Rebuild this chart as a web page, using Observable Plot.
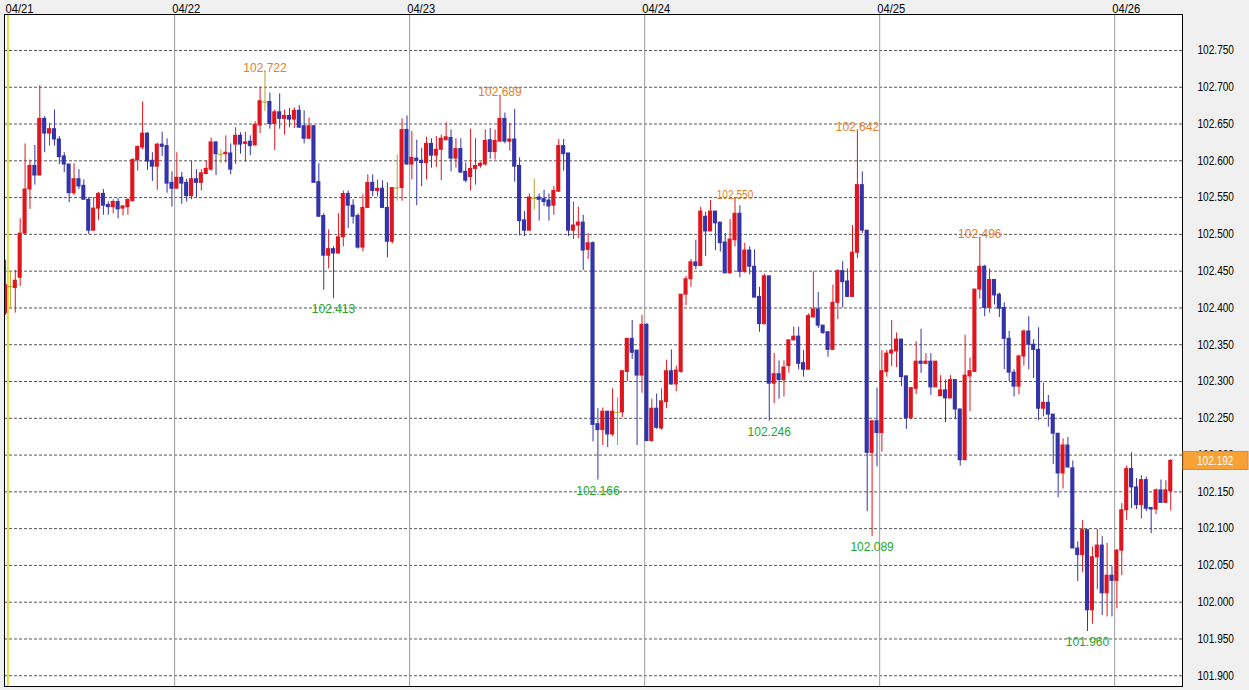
<!DOCTYPE html>
<html>
<head>
<meta charset="utf-8">
<script src="https://cdn.jsdelivr.net/npm/d3@7"></script>
<script src="https://cdn.jsdelivr.net/npm/@observablehq/plot@0.6"></script>
<style>
  html, body { margin: 0; padding: 0; background: #f0f0f0; }
  #chart { width: 1249px; height: 690px; }
</style>
</head>
<body>
<div id="chart"></div>
<script>
// ---- DATA (30-minute candles, 04/21 06:30 .. 04/26 05:30) ----
const opens = [
102.393,102.429,102.427,102.441,102.501,102.561,102.593,102.580,102.657,102.637,
102.643,102.629,102.606,102.595,102.556,102.575,102.566,102.547,102.505,102.535,
102.555,102.540,102.537,102.544,102.535,102.537,102.545,102.601,102.618,102.637,
102.600,102.592,102.622,102.620,102.570,102.562,102.577,102.570,102.552,102.575,
102.570,102.582,102.588,102.625,102.609,102.609,102.610,102.622,102.634,102.623,
102.626,102.621,102.648,102.680,102.680,102.650,102.666,102.657,102.661,102.656,
102.668,102.647,102.630,102.647,102.571,102.525,102.471,102.480,102.474,102.496,
102.555,102.539,102.525,102.482,102.536,102.570,102.559,102.562,102.536,102.490,
102.563,102.563,102.642,102.595,102.603,102.600,102.597,102.623,102.607,102.615,
102.628,102.631,102.603,102.616,102.585,102.578,102.589,102.593,102.595,102.628,
102.612,102.626,102.657,102.626,102.629,102.593,102.519,102.505,102.549,102.550,
102.548,102.546,102.539,102.558,102.620,102.610,102.505,102.512,102.516,102.479,
102.488,102.242,102.234,102.259,102.228,102.258,102.258,102.313,102.358,102.342,
102.308,102.377,102.219,102.263,102.236,102.272,102.314,102.296,102.313,102.418,
102.439,102.462,102.457,102.524,102.504,102.531,102.516,102.489,102.447,102.492,
102.528,102.449,102.478,102.456,102.415,102.378,102.443,102.297,102.310,102.302,
102.321,102.356,102.361,102.325,102.316,102.387,102.398,102.376,102.367,102.343,
102.407,102.450,102.436,102.415,102.475,102.567,102.505,102.203,102.246,102.230,
102.313,102.338,102.341,102.357,102.307,102.250,102.290,102.327,102.324,102.327,
102.292,102.280,102.288,102.277,102.302,102.262,102.193,102.307,102.313,102.425,
102.456,102.400,102.438,102.418,102.400,102.358,102.312,102.293,102.334,102.368,
102.350,102.343,102.263,102.271,102.255,102.229,102.175,102.213,102.182,102.073,
102.064,102.098,101.989,102.061,102.077,102.012,102.036,102.029,102.070,102.125,
102.181,102.156,102.132,102.166,102.128,102.126,102.152,102.135,102.151
];
const highs = [
102.465,102.449,102.451,102.521,102.623,102.601,102.621,102.702,102.660,102.651,
102.669,102.633,102.611,102.595,102.596,102.588,102.574,102.550,102.550,102.557,
102.561,102.544,102.547,102.549,102.539,102.548,102.603,102.620,102.680,102.638,
102.611,102.624,102.639,102.630,102.585,102.611,102.584,102.575,102.600,102.588,
102.588,102.600,102.631,102.626,102.615,102.634,102.623,102.645,102.638,102.639,
102.634,102.653,102.700,102.722,102.692,102.669,102.691,102.669,102.671,102.672,
102.675,102.668,102.658,102.648,102.596,102.528,102.506,102.483,102.528,102.559,
102.559,102.547,102.528,102.554,102.581,102.581,102.574,102.573,102.570,102.563,
102.608,102.657,102.661,102.640,102.628,102.617,102.632,102.630,102.633,102.635,
102.652,102.642,102.630,102.630,102.597,102.643,102.630,102.598,102.642,102.644,
102.642,102.689,102.665,102.651,102.670,102.604,102.531,102.555,102.575,102.555,
102.560,102.555,102.565,102.629,102.629,102.610,102.544,102.537,102.526,102.501,
102.490,102.263,102.264,102.259,102.290,102.278,102.314,102.358,102.383,102.342,
102.390,102.379,102.276,102.283,102.290,102.329,102.343,102.321,102.418,102.443,
102.466,102.492,102.537,102.530,102.546,102.531,102.516,102.501,102.520,102.550,
102.539,102.488,102.483,102.479,102.428,102.446,102.443,102.338,102.328,102.328,
102.356,102.374,102.374,102.342,102.392,102.449,102.421,102.376,102.367,102.431,
102.452,102.463,102.453,102.512,102.642,102.585,102.505,102.246,102.291,102.342,
102.342,102.383,102.366,102.357,102.307,102.291,102.354,102.371,102.338,102.338,
102.327,102.308,102.302,102.308,102.302,102.262,102.363,102.332,102.425,102.496,
102.458,102.453,102.438,102.420,102.407,102.368,102.316,102.336,102.370,102.388,
102.357,102.373,102.298,102.281,102.255,102.229,102.222,102.224,102.192,102.082,
102.111,102.098,102.075,102.099,102.089,102.080,102.049,102.072,102.134,102.185,
102.203,102.168,102.172,102.170,102.128,102.154,102.166,102.165,102.194
];
const lows = [
102.390,102.399,102.393,102.429,102.500,102.534,102.567,102.580,102.611,102.620,
102.620,102.595,102.584,102.543,102.553,102.561,102.547,102.500,102.505,102.519,
102.526,102.526,102.528,102.521,102.525,102.526,102.544,102.586,102.615,102.587,
102.572,102.560,102.606,102.556,102.537,102.562,102.541,102.544,102.547,102.550,
102.559,102.581,102.586,102.580,102.596,102.597,102.581,102.595,102.609,102.598,
102.607,102.620,102.637,102.667,102.643,102.614,102.643,102.635,102.645,102.644,
102.644,102.623,102.629,102.570,102.523,102.424,102.453,102.413,102.473,102.483,
102.508,102.514,102.480,102.476,102.535,102.551,102.551,102.535,102.468,102.487,
102.545,102.545,102.594,102.574,102.539,102.565,102.574,102.590,102.591,102.573,
102.628,102.585,102.590,102.583,102.570,102.559,102.567,102.590,102.593,102.602,
102.601,102.626,102.623,102.613,102.571,102.498,102.497,102.505,102.533,102.518,
102.538,102.518,102.526,102.557,102.586,102.497,102.493,102.494,102.451,102.466,
102.218,102.166,102.213,102.210,102.225,102.213,102.251,102.300,102.330,102.213,
102.284,102.219,102.218,102.235,102.234,102.263,102.295,102.286,102.311,102.403,
102.428,102.452,102.457,102.470,102.504,102.478,102.476,102.447,102.447,102.483,
102.441,102.447,102.445,102.414,102.367,102.377,102.246,102.270,102.276,102.279,
102.311,102.355,102.316,102.306,102.316,102.387,102.372,102.364,102.333,102.343,
102.384,102.400,102.414,102.415,102.467,102.501,102.123,102.089,102.184,102.204,
102.306,102.320,102.319,102.293,102.235,102.248,102.282,102.311,102.323,102.281,
102.292,102.280,102.244,102.277,102.248,102.185,102.193,102.259,102.313,102.412,
102.388,102.393,102.404,102.387,102.316,102.300,102.279,102.282,102.321,102.316,
102.304,102.247,102.252,102.238,102.187,102.142,102.154,102.183,102.073,102.028,
102.040,101.960,101.970,102.017,101.982,101.980,101.980,101.991,102.036,102.111,
102.127,102.126,102.113,102.123,102.093,102.119,102.135,102.135,102.124
];
const closes = [
102.431,102.429,102.437,102.501,102.561,102.593,102.580,102.657,102.637,102.643,
102.629,102.605,102.595,102.556,102.575,102.565,102.547,102.505,102.535,102.555,
102.539,102.537,102.544,102.534,102.538,102.547,102.601,102.619,102.637,102.599,
102.592,102.622,102.619,102.569,102.562,102.577,102.569,102.552,102.575,102.570,
102.583,102.589,102.625,102.609,102.609,102.611,102.588,102.634,102.622,102.625,
102.620,102.649,102.681,102.680,102.650,102.666,102.657,102.661,102.656,102.668,
102.645,102.630,102.647,102.570,102.524,102.471,102.480,102.474,102.496,102.555,
102.539,102.524,102.482,102.536,102.570,102.559,102.562,102.536,102.490,102.563,
102.563,102.642,102.595,102.604,102.600,102.597,102.623,102.607,102.615,102.630,
102.632,102.603,102.616,102.584,102.573,102.589,102.593,102.596,102.627,102.612,
102.627,102.657,102.626,102.629,102.592,102.518,102.505,102.550,102.549,102.547,
102.544,102.538,102.559,102.620,102.609,102.505,102.512,102.516,102.478,102.488,
102.241,102.234,102.259,102.228,102.259,102.258,102.314,102.358,102.339,102.308,
102.377,102.219,102.263,102.237,102.273,102.314,102.296,102.315,102.418,102.439,
102.462,102.457,102.531,102.504,102.531,102.515,102.488,102.447,102.493,102.528,
102.449,102.478,102.456,102.414,102.378,102.443,102.297,102.310,102.302,102.319,
102.356,102.361,102.324,102.316,102.389,102.398,102.376,102.366,102.343,102.407,
102.450,102.435,102.415,102.475,102.567,102.505,102.203,102.246,102.230,102.314,
102.338,102.342,102.357,102.306,102.250,102.291,102.327,102.324,102.327,102.292,
102.327,102.288,102.277,102.302,102.262,102.193,102.308,102.314,102.425,102.456,
102.400,102.438,102.417,102.399,102.358,102.312,102.293,102.334,102.368,102.350,
102.343,102.263,102.271,102.255,102.229,102.175,102.213,102.183,102.073,102.064,
102.098,101.989,102.061,102.077,102.012,102.036,102.029,102.070,102.125,102.181,
102.156,102.132,102.166,102.127,102.126,102.152,102.135,102.152,102.192
];

// day labels and index of first (00:00) candle of each day
const dayLabels = ["04/21", "04/22", "04/23", "04/24", "04/25", "04/26"];
const dayStartIndex = [0, 35, 83, 131, 179, 227];
const weekOpenIndex = 0;

// y tick labels
const yTicks = [101.90,101.95,102.00,102.05,102.10,102.15,102.20,102.25,102.30,102.35,
                102.40,102.45,102.50,102.55,102.60,102.65,102.70,102.75];

// annotated extremes (candle index)
const highMarkIndex = [53, 101, 149, 174, 199];
const lowMarkIndex  = [67, 121, 156, 177, 221];

// ---- build ----
const candles = opens.map((o, i) => ({
  i, open: o, high: highs[i], low: lows[i], close: closes[i],
  dir: closes[i] > o ? "up" : closes[i] < o ? "down" : "flat"
}));
const RED = "#e0161e", BLUE = "#3434aa", OLIVE = "#b4a02c";
const colorOf = d => d.dir === "up" ? RED : d.dir === "down" ? BLUE : OLIVE;
const bodies = candles.filter(d => d.dir !== "flat");
const dojis = candles.filter(d => d.dir === "flat");
const fmt = d3.format(".3f");

const W = 1249, H = 690;
const halfBody = 0.42;
const AXIS_FONT = "'Liberation Sans',Arial,sans-serif";

const plot = Plot.plot({
  width: W,
  height: H,
  marginLeft: 4,
  marginRight: 67,
  marginTop: 14,
  marginBottom: 4,
  style: {background: "#f0f0f0", fontFamily: AXIS_FONT, fontSize: "12px", color: "#000", overflow: "visible"},
  x: {type: "linear", domain: [-0.204, 240.4], axis: null},
  y: {type: "linear", domain: [101.8854, 102.7989]},
  marks: [
    Plot.frame({fill: "white", stroke: "none"}),
    Plot.ruleY(yTicks, {stroke: "#555", strokeDasharray: "3,2", strokeWidth: 1}),
    Plot.ruleX(dayStartIndex.slice(1), {x: d => d - 0.45, stroke: "#9a9a9a", strokeWidth: 1}),
    Plot.ruleX([weekOpenIndex], {x: d => d + 0.5, stroke: "#e6d200", strokeWidth: 1.5}),
    Plot.ruleX(candles, {x: "i", y1: "low", y2: "high", stroke: colorOf, strokeWidth: 1, clip: true}),
    Plot.rect(bodies, {
      x1: d => d.i - halfBody, x2: d => d.i + halfBody,
      y1: "open", y2: "close",
      fill: colorOf, insetTop: -0.5, insetBottom: -0.5, clip: true
    }),
    Plot.ruleY(dojis, {x1: d => d.i - halfBody - 0.1, x2: d => d.i + halfBody + 0.1, y: "open", stroke: OLIVE, strokeWidth: 1, clip: true}),
    Plot.text(highMarkIndex, {
      x: d => d, y: d => highs[d], text: d => fmt(highs[d]),
      fill: "#e4802c", fontFamily: "'Liberation Sans',Arial,sans-serif", fontSize: 12,
      lineAnchor: "bottom", dy: 1
    }),
    Plot.text(lowMarkIndex, {
      x: d => d, y: d => lows[d], text: d => fmt(lows[d]),
      fill: "#1fa51f", fontFamily: "'Liberation Sans',Arial,sans-serif", fontSize: 12,
      lineAnchor: "top", dy: 6
    }),
    Plot.text(dayLabels, {
      x: (d, k) => Math.max(dayStartIndex[k] - 0.45, weekOpenIndex + 0.5),
      frameAnchor: "top", text: d => d, textAnchor: "start", lineAnchor: "bottom",
      dx: -2.5, dy: -2, fill: "#000"
    }),
    Plot.axisY({anchor: "right", ticks: yTicks, tickFormat: fmt, tickSize: 0, tickPadding: 15, textAnchor: "start", fill: "#000"}),
    Plot.frame({stroke: "#000", strokeWidth: 1})
  ]
});

const svg = d3.select(plot.tagName.toLowerCase() === "svg" ? plot : plot.querySelector("svg"));

// narrow the axis and date labels like the reference's condensed font
const tickStrings = new Set(yTicks.map(fmt));
const dayStrings = new Set(dayLabels);
svg.selectAll("text").each(function() {
  const t = this.textContent;
  if (tickStrings.has(t)) {
    d3.select(this).attr("textLength", 36.5).attr("lengthAdjust", "spacingAndGlyphs");
  } else if (dayStrings.has(t)) {
    d3.select(this).attr("textLength", 28).attr("lengthAdjust", "spacingAndGlyphs");
  }
});

// current price tag in the right margin, positioned via the plot's own scales
const ys = plot.scale("y");
const xs = plot.scale("x");
const last = closes[closes.length - 1];
const yLast = ys.apply(last);
const xRight = xs.range[1];
const g = svg.append("g");
g.append("rect")
  .attr("x", xRight + 1).attr("y", yLast - 9)
  .attr("width", W - xRight - 2).attr("height", 18)
  .attr("fill", "#f7a136").attr("stroke", "#e08a1e");
g.append("text")
  .attr("x", xRight + 15).attr("y", yLast).attr("dy", "0.36em")
  .attr("text-anchor", "start")
  .attr("fill", "#fff")
  .attr("textLength", 36.5).attr("lengthAdjust", "spacingAndGlyphs")
  .style("font-family", AXIS_FONT)
  .style("font-size", "12px")
  .text(fmt(last));

document.getElementById("chart").appendChild(plot);
</script>
</body>
</html>
